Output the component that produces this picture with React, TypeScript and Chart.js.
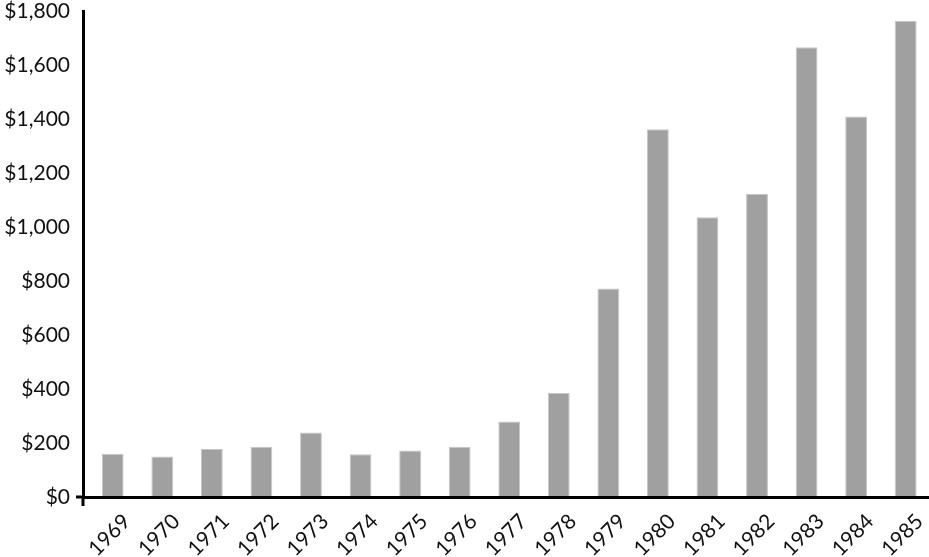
import React, { useEffect, useRef } from "react";
import { Chart, registerables } from "chart.js";

Chart.register(...registerables);

const years: string[] = [
  "1969", "1970", "1971", "1972", "1973", "1974", "1975", "1976", "1977",
  "1978", "1979", "1980", "1981", "1982", "1983", "1984", "1985",
];
const values: number[] = [
  160, 150, 178, 186, 239, 158, 172, 186, 280, 385, 772, 1362, 1036, 1122, 1666, 1409, 1763,
];
const yMin = 0;
const yMax = 1800;
const yStep = 200;

const FONT = "Lato, 'Open Sans', sans-serif";

const axisExtensions = {
  id: "axisExtensions",
  afterDraw(chart: any) {
    const { ctx, chartArea } = chart;
    ctx.save();
    ctx.strokeStyle = "#000";
    ctx.lineWidth = 3;
    ctx.beginPath();
    ctx.moveTo(chartArea.left - 7, chartArea.bottom);
    ctx.lineTo(chartArea.left, chartArea.bottom);
    ctx.moveTo(chartArea.left, chartArea.bottom);
    ctx.lineTo(chartArea.left, chartArea.bottom + 9);
    ctx.stroke();
    ctx.restore();
  },
};

export default function App() {
  const canvasRef = useRef<HTMLCanvasElement | null>(null);

  useEffect(() => {
    if (!canvasRef.current) return;
    const chart = new Chart(canvasRef.current, {
      type: "bar",
      data: {
        datasets: [
          {
            data: years.map((y, i) => ({ x: Number(y), y: values[i] })),
            backgroundColor: "#a0a0a0",
            borderColor: "#c6c6c6",
            borderWidth: 1,
            barPercentage: 0.44,
            categoryPercentage: 1,
          },
        ],
      },
      options: {
        animation: false,
        responsive: true,
        maintainAspectRatio: false,
        layout: { padding: { top: 11, right: 1, left: 0, bottom: 0 } },
        plugins: {
          legend: { display: false },
          tooltip: { enabled: false },
        },
        scales: {
          x: {
            type: "linear",
            min: 1968.4,
            max: 1985.45,
            offset: false,
            grid: { display: false, drawTicks: false },
            border: { display: true, color: "#000", width: 3, z: 1 },
            afterFit: (scale: any) => {
              scale.height = 60;
              scale.paddingLeft = 0;
              scale.paddingRight = 0;
            },
            ticks: {
              stepSize: 1,
              includeBounds: false,
              autoSkip: false,
              maxTicksLimit: 100,
              minRotation: 45,
              maxRotation: 45,
              padding: 12,
              labelOffset: 14,
              color: "#111",
              font: { family: FONT, size: 21 },
              callback: (v: any) => String(v),
            },
          },
          y: {
            min: yMin,
            max: yMax,
            grid: { display: false, drawTicks: false },
            border: { display: true, color: "#000", width: 3, z: 1 },
            afterFit: (scale: any) => {
              scale.width = 83;
              scale.paddingTop = 0;
              scale.paddingBottom = 0;
            },
            ticks: {
              stepSize: yStep,
              padding: 13,
              color: "#111",
              font: { family: FONT, size: 21 },
              callback: (v: any) => "$" + Number(v).toLocaleString("en-US"),
            },
          },
        },
      },
      plugins: [axisExtensions],
    });
    return () => chart.destroy();
  }, []);

  return (
    <div style={{ position: "fixed", left: 0, top: 0, width: 929, height: 557 }}>
      <canvas ref={canvasRef} />
    </div>
  );
}
